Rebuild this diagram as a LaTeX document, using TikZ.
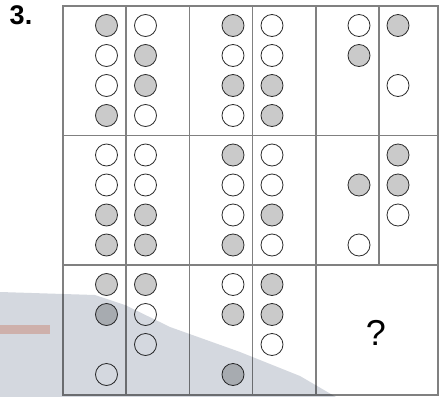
\documentclass[tikz,border=0pt]{standalone}
\usepackage{fontspec}
\setsansfont{Liberation Sans}
\definecolor{gridline}{RGB}{128,128,128}
\definecolor{pegline}{RGB}{45,45,45}
\definecolor{peggrey}{RGB}{202,202,202}
\definecolor{wmark}{RGB}{212,216,223}
\definecolor{wstreak}{RGB}{248,208,196}

\tikzset{
  pegg/.style={draw=pegline, fill=peggrey, line width=0.8pt},
  pegw/.style={draw=pegline, fill=white, line width=0.8pt},
  gridrule/.style={draw=gridline, line width=1.1pt},
}
% one column of pegs: x, row top, list of slot/type
\newcommand{\pegcol}[3]{%
  \foreach \k/\t in {#3}{\draw[peg\t] (#1, #2+19.5+30*\k-30) circle (11);}}

\begin{document}
\begin{tikzpicture}[x=1pt, y=-1pt, font=\sffamily]
\useasboundingbox (0,0) rectangle (440,397);
\fill[white] (0,0) rectangle (440,397);

% Item number
\node[font=\sffamily\bfseries\fontsize{27}{27}\selectfont] (num) at (21,15) {3.};

% Grid
\draw[gridrule] (63,6) rectangle (438,395);
\foreach \y in {135.5, 265} \draw[gridrule] (63,\y) -- (438,\y);
\foreach \x in {126, 189.5, 252.5, 316} \draw[gridrule] (\x,6) -- (\x,395);
\draw[gridrule] (379,6) -- (379,265);

% Row 1
\pegcol{106.5}{6}{1/g,2/w,3/w,4/g}
\pegcol{145.5}{6}{1/w,2/g,3/g,4/w}
\pegcol{233}{6}{1/g,2/w,3/g,4/w}
\pegcol{272}{6}{1/w,2/w,3/g,4/g}
\pegcol{359}{6}{1/w,2/g}
\pegcol{398}{6}{1/g,3/w}

% Row 2
\pegcol{106.5}{135.5}{1/w,2/w,3/g,4/g}
\pegcol{145.5}{135.5}{1/w,2/w,3/g,4/g}
\pegcol{233}{135.5}{1/g,2/w,3/w,4/g}
\pegcol{272}{135.5}{1/w,2/w,3/g,4/w}
\pegcol{359}{135.5}{2/g,4/w}
\pegcol{398}{135.5}{1/g,2/g,3/w}

% Row 3
\pegcol{106.5}{265}{1/g,2/g,4/w}
\pegcol{145.5}{265}{1/g,2/w,3/w}
\pegcol{233}{265}{1/w,2/g,4/g}
\pegcol{272}{265}{1/g,2/g,3/w}
\node[font=\sffamily\fontsize{36}{36}\selectfont] (ask) at (376,333) {?};

% Scanner shading across the lower left
\begin{scope}[blend mode=multiply]
\fill[wmark] (0,292) -- (95,295) -- (125,305) -- (170,327) -- (240,352)
  -- (300,376) -- (336,397) -- (0,397) -- cycle;
\fill[wstreak] (0,325) rectangle (50,334);
\end{scope}
\end{tikzpicture}
\end{document}
